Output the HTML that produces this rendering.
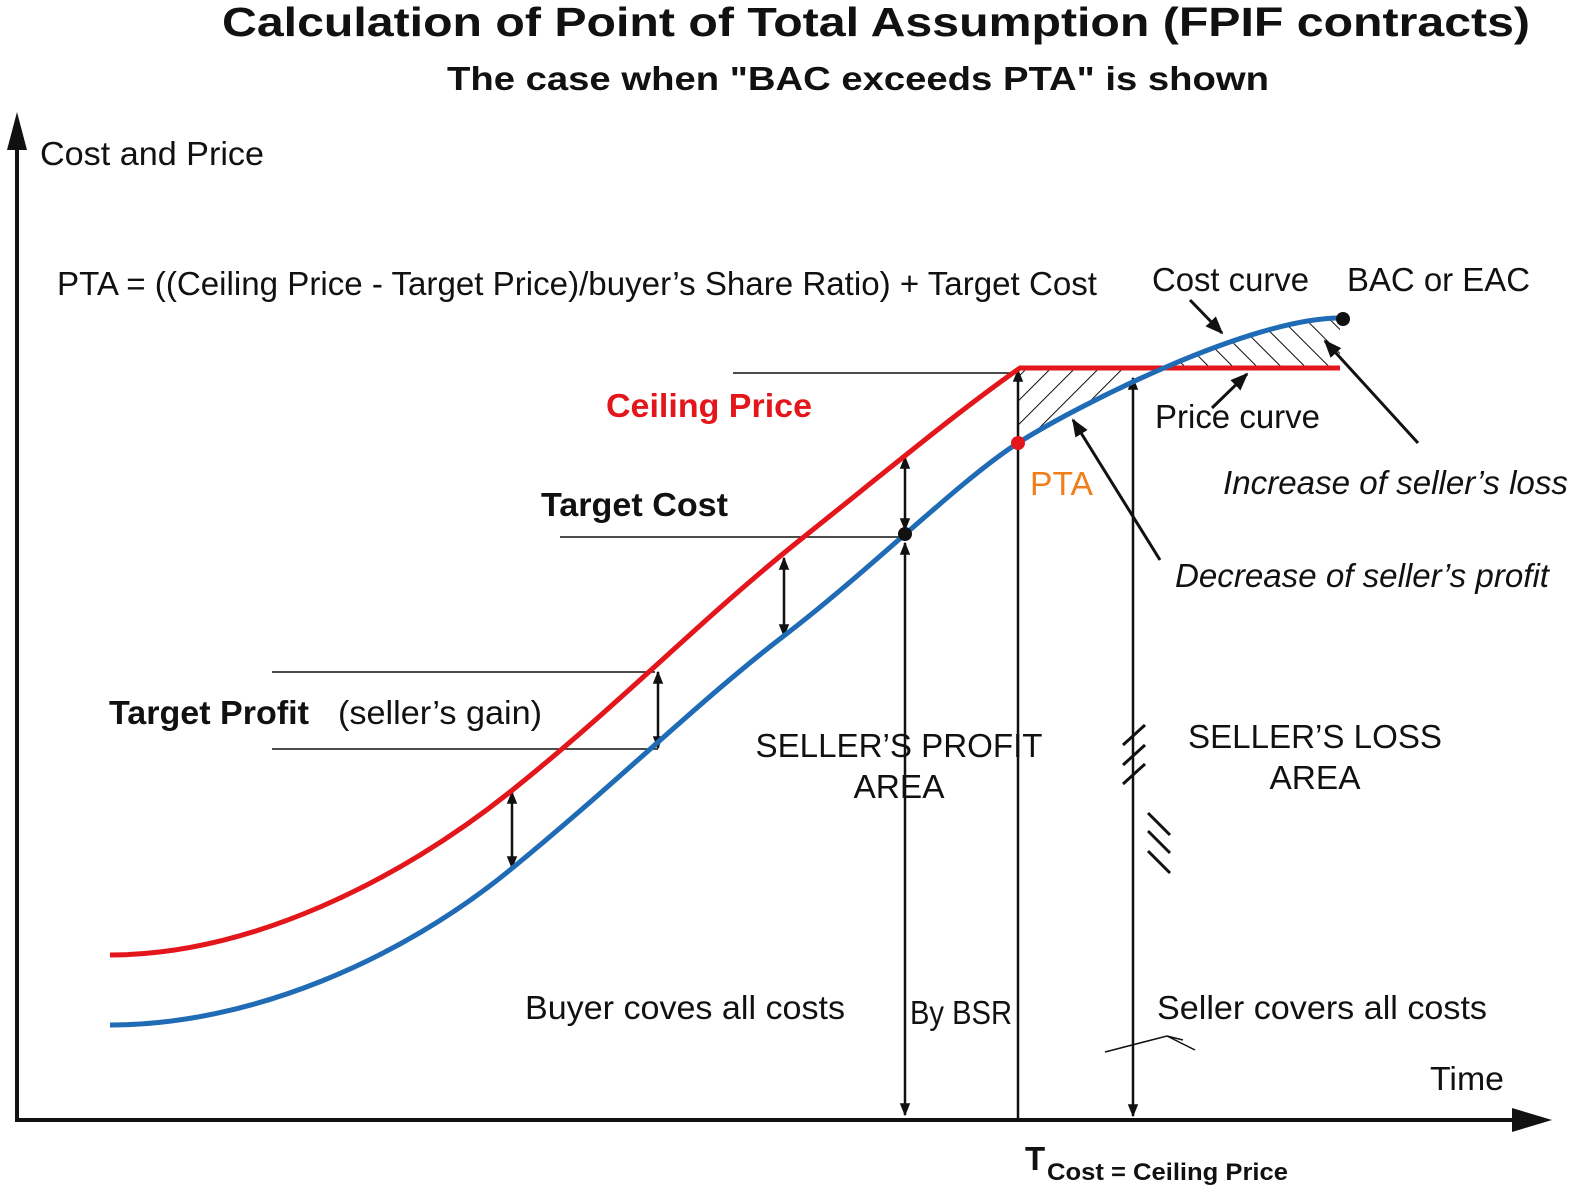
<!DOCTYPE html>
<html><head><meta charset="utf-8"><style>
html,body{margin:0;padding:0;background:#fff}
svg{display:block}
text{font-family:"Liberation Sans",Arial,sans-serif;fill:#111}
</style></head><body>
<svg width="1584" height="1199" viewBox="0 0 1584 1199" xmlns="http://www.w3.org/2000/svg">
<defs>
<pattern id="h1" width="17" height="17" patternUnits="userSpaceOnUse" patternTransform="rotate(45)">
<line x1="0" y1="0" x2="0" y2="17" stroke="#111" stroke-width="2"/></pattern>
<pattern id="h2" width="17" height="17" patternUnits="userSpaceOnUse" patternTransform="rotate(-45)">
<line x1="0" y1="0" x2="0" y2="17" stroke="#111" stroke-width="2"/></pattern>
<clipPath id="above"><path d="M1018,443 C1076,406 1250,318 1340,318 L1340,200 L1018,200 Z"/></clipPath>
<clipPath id="below"><path d="M1018,443 C1076,406 1250,318 1340,318 L1340,420 L1018,420 Z"/></clipPath>
<marker id="ar" viewBox="0 0 10 10" refX="9" refY="5" markerWidth="15" markerHeight="13" orient="auto-start-reverse" markerUnits="userSpaceOnUse"><path d="M0,1 L10,5 L0,9 Z" fill="#111"/></marker>
<marker id="arb" viewBox="0 0 10 10" refX="9" refY="5" markerWidth="18" markerHeight="18" orient="auto-start-reverse" markerUnits="userSpaceOnUse"><path d="M0,1 L10,5 L0,9 Z" fill="#111"/></marker>
</defs>

<text x="876" y="36" font-size="41" font-weight="bold" text-anchor="middle" textLength="1308" lengthAdjust="spacingAndGlyphs">Calculation of Point of Total Assumption (FPIF contracts)</text>
<text x="858" y="90" font-size="33" font-weight="bold" text-anchor="middle" textLength="822" lengthAdjust="spacingAndGlyphs">The case when "BAC exceeds PTA" is shown</text>

<line x1="17" y1="1120" x2="17" y2="140" stroke="#111" stroke-width="4"/>
<path d="M17,112 L7,150 L27,150 Z" fill="#111"/>
<line x1="15" y1="1120" x2="1520" y2="1120" stroke="#111" stroke-width="4"/>
<path d="M1552,1120 L1512,1108 L1512,1132 Z" fill="#111"/>

<g clip-path="url(#above)"><rect x="1018" y="368" width="120" height="80" fill="url(#h1)"/></g>
<g clip-path="url(#below)"><rect x="1138" y="300" width="202" height="68" fill="url(#h2)"/></g>

<g stroke="#111" stroke-width="1.5">
<line x1="733" y1="373" x2="1018" y2="373"/>
<line x1="560" y1="537" x2="905" y2="537"/>
<line x1="272" y1="672" x2="655" y2="672"/>
<line x1="272" y1="749" x2="658" y2="749"/>
</g>

<g stroke="#111" stroke-width="2.5" marker-start="url(#ar)" marker-end="url(#ar)">
<line x1="512" y1="792" x2="512" y2="868"/>
<line x1="658" y1="672" x2="658" y2="748"/>
<line x1="784" y1="558" x2="784" y2="636"/>
<line x1="905" y1="457" x2="905" y2="530"/>
<line x1="905" y1="543" x2="905" y2="1115"/>
<line x1="1133" y1="378" x2="1133" y2="1116"/>
</g>
<line x1="1018" y1="1120" x2="1018" y2="370" stroke="#111" stroke-width="2.5" marker-end="url(#ar)"/>

<path d="M110,955 C250,955 400,880 510,792 S700,620 800,540 S960,410 1020,368 L1340,368" fill="none" stroke="#e3161b" stroke-width="5"/>
<path d="M110,1025 C250,1025 400,960 510,870 S700,700 785,635 S960,480 1018,443 S1250,318 1340,318" fill="none" stroke="#1f6bb5" stroke-width="5"/>
<circle cx="1343" cy="319" r="7" fill="#111"/>
<circle cx="1018" cy="443" r="7" fill="#e3161b"/>
<circle cx="905" cy="534" r="7" fill="#111"/>

<g stroke="#111" stroke-width="3" marker-end="url(#arb)">
<line x1="1190" y1="300" x2="1222" y2="333"/>
<line x1="1212" y1="408" x2="1247" y2="374"/>
<line x1="1418" y1="443" x2="1325" y2="341"/>
<line x1="1160" y1="560" x2="1073" y2="420"/>
</g>

<g stroke="#111" stroke-width="3">
<line x1="1123" y1="745" x2="1145" y2="725"/>
<line x1="1123" y1="765" x2="1145" y2="745"/>
<line x1="1123" y1="784" x2="1145" y2="764"/>
<line x1="1148" y1="813" x2="1170" y2="835"/>
<line x1="1148" y1="831" x2="1170" y2="853"/>
<line x1="1148" y1="851" x2="1170" y2="873"/>
</g>
<polyline points="1105,1052 1167,1036 1183,1040" fill="none" stroke="#111" stroke-width="1.5"/>
<line x1="1167" y1="1036" x2="1195" y2="1050" stroke="#111" stroke-width="1.5"/>

<text x="40" y="165" font-size="33" textLength="224" lengthAdjust="spacingAndGlyphs">Cost and Price</text>
<text x="57" y="295" font-size="33" textLength="1040" lengthAdjust="spacingAndGlyphs">PTA = ((Ceiling Price - Target Price)/buyer’s Share Ratio) + Target Cost</text>
<text x="1152" y="291" font-size="33" textLength="157" lengthAdjust="spacingAndGlyphs">Cost curve</text>
<text x="1347" y="291" font-size="33" textLength="183" lengthAdjust="spacingAndGlyphs">BAC or EAC</text>
<text x="606" y="417" font-size="33" font-weight="bold" style="fill:#e3161b" textLength="206" lengthAdjust="spacingAndGlyphs">Ceiling Price</text>
<text x="1155" y="428" font-size="33" textLength="165" lengthAdjust="spacingAndGlyphs">Price curve</text>
<text x="1030" y="495" font-size="33" style="fill:#f07f1b" textLength="63" lengthAdjust="spacingAndGlyphs">PTA</text>
<text x="1223" y="494" font-size="33" font-style="italic" textLength="345" lengthAdjust="spacingAndGlyphs">Increase of seller’s loss</text>
<text x="541" y="516" font-size="33" font-weight="bold" textLength="187" lengthAdjust="spacingAndGlyphs">Target Cost</text>
<text x="1175" y="587" font-size="33" font-style="italic" textLength="374" lengthAdjust="spacingAndGlyphs">Decrease of seller’s profit</text>
<text x="109" y="724" font-size="33" font-weight="bold" textLength="200" lengthAdjust="spacingAndGlyphs">Target Profit</text>
<text x="338" y="724" font-size="33" textLength="204" lengthAdjust="spacingAndGlyphs">(seller’s gain)</text>
<text x="899" y="757" font-size="33" text-anchor="middle" textLength="287" lengthAdjust="spacingAndGlyphs">SELLER’S PROFIT</text>
<text x="899" y="798" font-size="33" text-anchor="middle" textLength="91" lengthAdjust="spacingAndGlyphs">AREA</text>
<text x="1315" y="748" font-size="33" text-anchor="middle" textLength="254" lengthAdjust="spacingAndGlyphs">SELLER’S LOSS</text>
<text x="1315" y="789" font-size="33" text-anchor="middle" textLength="91" lengthAdjust="spacingAndGlyphs">AREA</text>
<text x="525" y="1019" font-size="33" textLength="320" lengthAdjust="spacingAndGlyphs">Buyer coves all costs</text>
<text x="910" y="1024" font-size="33" textLength="102" lengthAdjust="spacingAndGlyphs">By BSR</text>
<text x="1157" y="1019" font-size="33" textLength="330" lengthAdjust="spacingAndGlyphs">Seller covers all costs</text>
<text x="1430" y="1090" font-size="33" textLength="74" lengthAdjust="spacingAndGlyphs">Time</text>
<text x="1025" y="1170" font-size="33" font-weight="bold">T</text>
<text x="1047" y="1180" font-size="24" font-weight="bold" textLength="241" lengthAdjust="spacingAndGlyphs">Cost = Ceiling Price</text>
</svg>
</body></html>
